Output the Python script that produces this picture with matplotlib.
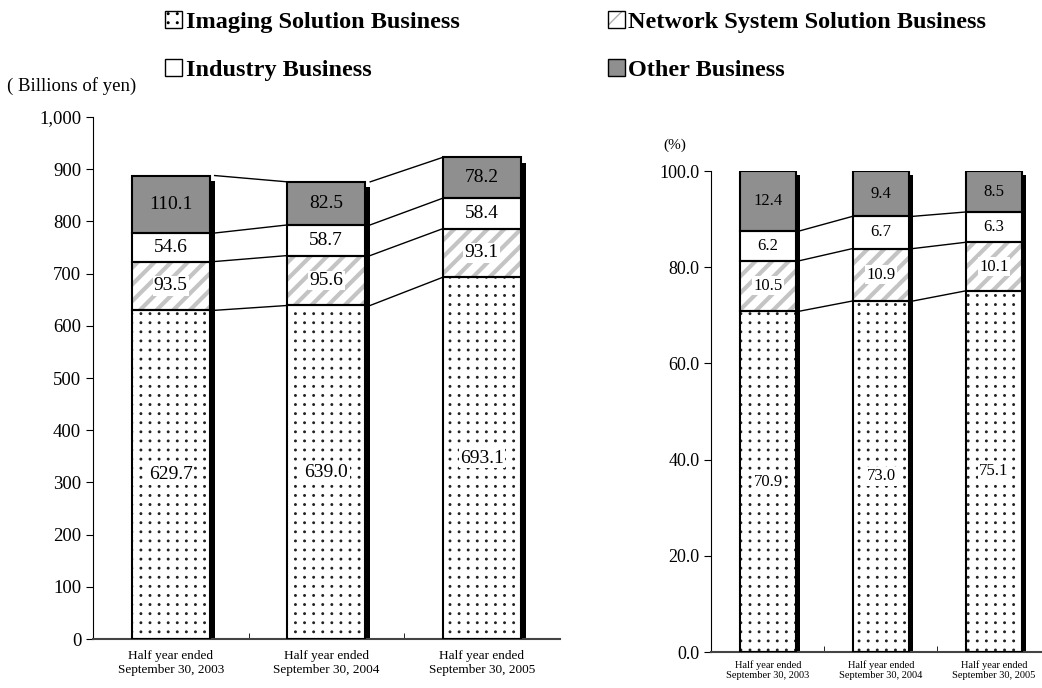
import matplotlib.pyplot as plt
from matplotlib import hatch as mhatch
from matplotlib.path import Path
from matplotlib.patches import Patch
from matplotlib.legend_handler import HandlerTuple
import numpy as np

plt.rcParams['font.family'] = ['Liberation Serif', 'DejaVu Serif']

periods = ['Half year ended\nSeptember 30, 2003',
           'Half year ended\nSeptember 30, 2004',
           'Half year ended\nSeptember 30, 2005']
segments = ['Imaging Solution Business', 'Network System Solution Business',
            'Industry Business', 'Other Business']

# net sales, billions of yen
imaging_sales = [629.7, 639.0, 693.1]
network_sales = [93.5, 95.6, 93.1]
industry_sales = [54.6, 58.7, 58.4]
other_sales = [110.1, 82.5, 78.2]

# share of total, %
imaging_pct = [70.9, 73.0, 75.1]
network_pct = [10.5, 10.9, 10.1]
industry_pct = [6.2, 6.7, 6.3]
other_pct = [12.4, 9.4, 8.5]


# '.' hatch as a square (non staggered) grid of small dots, ~9 px apart
class GridDots(mhatch.HatchPatternBase):
    def __init__(self, hatch, density):
        self.n = 11 if '.' in hatch else 0
        circ = Path.unit_circle()
        self.sv = circ.vertices
        self.sc = circ.codes
        self.num_vertices = self.n * self.n * len(self.sv)

    def set_vertices_and_codes(self, vertices, codes):
        step = 1.0 / self.n
        shape = self.sv * step * 0.09
        k = len(self.sv)
        i = 0
        for r in range(self.n):
            for c in range(self.n):
                vertices[i:i + k] = shape + ((c + 0.5) * step, (r + 0.5) * step)
                codes[i:i + k] = self.sc
                i += k


mhatch._hatch_types = [t for t in mhatch._hatch_types
                       if t is not mhatch.SmallFilledCircles] + [GridDots]

styles = [
    dict(fc='white', hc='#222222', hatch='.', hlw=0.9, box=True),
    dict(fc='white', hc='#c4c4c4', hatch='//', hlw=3.0, box=True),
    dict(fc='white', hc='white', hatch=None, hlw=1.0, box=False),
    dict(fc='#8f8f8f', hc='#8f8f8f', hatch=None, hlw=1.0, box=False),
]


def draw_stack(ax, series, dx, dy, fs, top_line):
    x = np.arange(len(periods))
    w = 0.5
    total = np.sum(series, axis=0)
    ax.bar(x + dx, total - dy, w, color='black', linewidth=0, zorder=1)
    bottom = np.zeros(len(x))
    tops = []
    for vals, st in zip(series, styles):
        vals = np.array(vals)
        with plt.rc_context({'hatch.linewidth': st['hlw']}):
            ax.bar(x, vals, w, bottom=bottom, facecolor=st['fc'], edgecolor=st['hc'],
                   hatch=st['hatch'], linewidth=0, zorder=2)
        ax.bar(x, vals, w, bottom=bottom, fill=False, edgecolor='black',
               linewidth=1.5, zorder=3)
        for xi, b, v in zip(x, bottom, vals):
            bb = dict(facecolor='white', edgecolor='none', pad=1) if st['box'] else None
            ax.text(xi, b + v / 2, f'{v:.1f}', ha='center', va='center',
                    fontsize=fs, zorder=4, bbox=bb)
        bottom = bottom + vals
        tops.append(bottom.copy())
    if not top_line:
        tops = tops[:-1]
    for top in tops:
        for i in range(len(x) - 1):
            ax.plot([x[i] + w / 2 + dx, x[i + 1] - w / 2], [top[i], top[i + 1]],
                    color='black', lw=1, zorder=1)
    ax.set_xlim(-0.5, len(x) - 0.5)
    ax.set_xticks(x)
    ax.set_xticks(x[:-1] + 0.5, minor=True)
    ax.tick_params(axis='x', which='major', length=0, pad=8)
    ax.tick_params(axis='x', which='minor', direction='in', length=4)
    ax.tick_params(axis='y', direction='out', length=5, labelsize=13.5)
    ax.spines['top'].set_visible(False)
    ax.spines['right'].set_visible(False)
    ax.spines['bottom'].set_color('#444444')
    ax.spines['bottom'].set_linewidth(1.5)


fig = plt.figure(figsize=(10.42, 6.88), dpi=100)

ax1 = fig.add_axes([0.0893, 0.0712, 0.4477, 0.7587])
draw_stack(ax1, [imaging_sales, network_sales, industry_sales, other_sales],
           0.032, 10, 14, True)
ax1.set_ylim(0, 1000)
ax1.set_yticks(range(0, 1001, 100))
ax1.set_yticklabels([f'{v:,}' for v in range(0, 1001, 100)])
ax1.set_xticklabels(periods, fontsize=9.5)
fig.text(7 / 1042, 1 - 86 / 688, '( Billions of yen)', fontsize=13.5, va='center')

ax2 = fig.add_axes([0.6828, 0.0523, 0.3253, 0.699])
draw_stack(ax2, [imaging_pct, network_pct, industry_pct, other_pct],
           0.035, 0.8, 12, False)
ax2.set_ylim(0, 100)
ax2.set_yticks(range(0, 101, 20))
ax2.set_yticklabels([f'{v:.1f}' for v in range(0, 101, 20)])
ax2.tick_params(axis='y', labelsize=13)
ax2.set_xticklabels(periods, fontsize=7.5)
ax2.tick_params(axis='x', which='major', pad=6)
fig.text(663 / 1042, 1 - 145 / 688, '(%)', fontsize=11, va='center')

with plt.rc_context({'hatch.linewidth': 3.0}):
    h_net_fill = Patch(facecolor='white', edgecolor='#b0b0b0', hatch='/', linewidth=0)
h_img = Patch(facecolor='white', edgecolor='black', hatch='.')
h_net = (h_net_fill, Patch(facecolor='none', edgecolor='black'))
h_ind = Patch(facecolor='white', edgecolor='black')
h_oth = Patch(facecolor='#8f8f8f', edgecolor='black')
fig.legend([h_img, h_ind, h_net, h_oth],
           [segments[0], segments[2], segments[1], segments[3]],
           handler_map={tuple: HandlerTuple(ndivide=1, pad=0)},
           ncol=2, loc='upper left', bbox_to_anchor=(165 / 1042, 1 - 11 / 688),
           frameon=False, prop={'weight': 'bold', 'size': 17.5},
           handlelength=0.7, handleheight=0.7, handletextpad=0.15,
           columnspacing=6.1, labelspacing=1.05, borderpad=0, borderaxespad=0)

fig.savefig('out.png', dpi=100)
